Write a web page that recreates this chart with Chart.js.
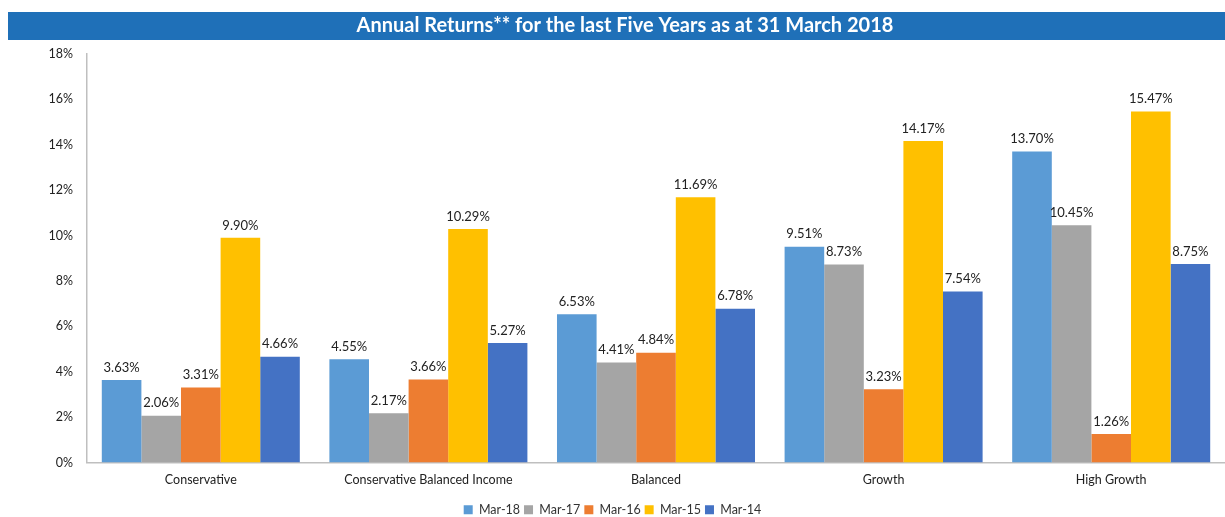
<!DOCTYPE html>
<html>
<head>
<meta charset="utf-8">
<script src="https://cdn.jsdelivr.net/npm/chart.js@4.4.1/dist/chart.umd.min.js"></script>
<style>
  html, body { margin: 0; padding: 0; background: #fff; }
  #wrap { width: 1225px; height: 517px; position: relative; }
</style>
</head>
<body>
<div id="wrap"><canvas id="myChart"></canvas></div>
<script>
const TITLE = 'Annual Returns** for the last Five Years as at 31 March 2018';
const categories = ['Conservative', 'Conservative Balanced Income', 'Balanced', 'Growth', 'High Growth'];
const seriesNames = ['Mar-18', 'Mar-17', 'Mar-16', 'Mar-15', 'Mar-14'];
const mar18 = [3.63, 4.55, 6.53, 9.51, 13.70];
const mar17 = [2.06, 2.17, 4.41, 8.73, 10.45];
const mar16 = [3.31, 3.66, 4.84, 3.23, 1.26];
const mar15 = [9.90, 10.29, 11.69, 14.17, 15.47];
const mar14 = [4.66, 5.27, 6.78, 7.54, 8.75];
const colors = ['#5B9BD5', '#A5A5A5', '#ED7D31', '#FFC000', '#4472C4'];
const FONT = 'Lato, "Open Sans", sans-serif';

const MY_CHART = document.querySelector('#myChart');

// blue title bar across the top
const titleBar = {
  id: 'titleBar',
  beforeDraw(chart) {
    const ctx = chart.ctx;
    ctx.save();
    ctx.fillStyle = '#1F70B8';
    ctx.fillRect(8, 12, chart.width - 8, 28);
    ctx.fillStyle = '#fff';
    ctx.font = 'bold 20px ' + FONT;
    ctx.textAlign = 'center';
    ctx.textBaseline = 'middle';
    ctx.fillText(TITLE, 625, 26);
    ctx.restore();
  }
};

// value labels above each bar
const barLabels = {
  id: 'barLabels',
  afterDatasetsDraw(chart) {
    const ctx = chart.ctx;
    ctx.save();
    ctx.font = '13px ' + FONT;
    ctx.fillStyle = '#222';
    ctx.textAlign = 'center';
    ctx.textBaseline = 'bottom';
    chart.data.datasets.forEach((ds, i) => {
      const meta = chart.getDatasetMeta(i);
      if (meta.hidden) return;
      meta.data.forEach((bar, j) => {
        ctx.fillText(ds.data[j].toFixed(2) + '%', bar.x, bar.y - 6);
      });
    });
    ctx.restore();
  }
};

const seriesData = [mar18, mar17, mar16, mar15, mar14];

const data = {
  labels: categories,
  datasets: seriesNames.map((name, i) => ({
    label: name,
    data: seriesData[i],
    backgroundColor: colors[i],
    borderWidth: 0,
    barPercentage: 1,
    categoryPercentage: 0.87
  }))
};

const CONFIG = {
  type: 'bar',
  data: data,
  plugins: [titleBar, barLabels],
  options: {
    responsive: true,
    maintainAspectRatio: false,
    animation: false,
    layout: { padding: { top: 54, right: 0, left: 0, bottom: -9 } },
    plugins: {
      legend: {
        position: 'bottom',
        labels: {
          boxWidth: 9,
          boxHeight: 9,
          padding: 4,
          color: '#333',
          font: { size: 12.5, family: FONT }
        }
      },
      tooltip: { enabled: false }
    },
    scales: {
      x: {
        afterFit(scale) { scale.height = 37; },
        grid: { display: false, drawTicks: false },
        border: { color: '#BFBFBF', width: 1.5 },
        ticks: { color: '#222', font: { size: 12.5, family: FONT }, padding: 10 }
      },
      y: {
        min: 0,
        max: 18,
        afterFit(scale) { scale.width = 87; },
        grid: { display: false, drawTicks: false },
        border: { color: '#BFBFBF', width: 1.5 },
        ticks: {
          stepSize: 2,
          color: '#222',
          padding: 14,
          font: { size: 12.5, family: FONT },
          callback: v => v + '%'
        }
      }
    }
  }
};

const chart = new Chart(MY_CHART, CONFIG);
</script>
</body>
</html>
